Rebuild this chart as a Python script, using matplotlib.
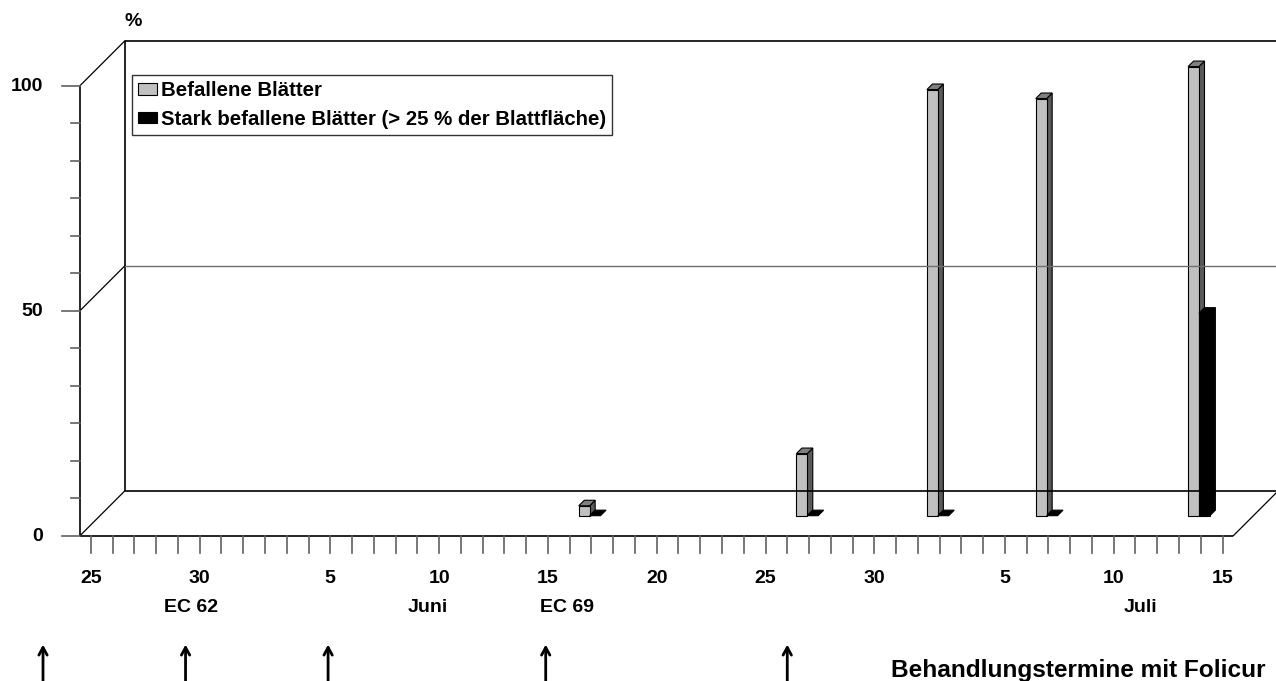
import numpy as np
import matplotlib.pyplot as plt
from matplotlib.patches import Polygon, Patch

plt.rcParams['font.family'] = ['Liberation Sans', 'DejaVu Sans']
plt.rcParams['font.weight'] = 'bold'

# day index along the category axis (0 = 25. Mai)
bar_days = [22, 32, 38, 43, 50]
befallen = [2.2, 13.8, 94.7, 92.7, 99.8]
stark = [0, 0, 0, 0, 45]

tick_pos = [0, 5, 11, 16, 21, 26, 31, 36, 42, 47, 52]
tick_txt = ['25', '30', '5', '10', '15', '20', '25', '30', '5', '10', '15']
sub_pos = [4.6, 15.5, 21.9, 48.25]
sub_txt = ['EC 62', 'Juni', 'EC 69', 'Juli']
spray_days = [-2.2, 4.35, 10.9, 20.9, 32.0]

n_days = 53
DX, DY = 2.068, 10.0      # depth of the floor in x / y data units
F0, F1 = 0.444, 0.567     # front and back of the columns (depth fraction)
W = 0.5                   # column width

def proj(x, y, f):
    return (x + f * DX, y + f * DY)

fig = plt.figure(figsize=(12.76, 6.81), dpi=100)
ax = fig.add_axes([0.0627, 0.2134, 0.9039, 0.6608])
ax.set_xlim(-0.5, n_days - 0.5)
ax.set_ylim(0, 100)
ax.axis('off')

x0, x1 = -0.5, n_days - 0.5
kw = dict(color='black', lw=1.2, clip_on=False, solid_capstyle='butt')

# walls and floor
for yv in (0, 50, 100):
    a, b = proj(x0, yv, 0), proj(x0, yv, 1)
    ax.plot([a[0], b[0]], [a[1], b[1]], color='black', lw=0.9, clip_on=False)
a, b = proj(x0, 0, 1), proj(x0, 100, 1)
ax.plot([a[0], b[0]], [a[1], b[1]], **kw)
a, b = proj(x0, 100, 1), proj(x1, 100, 1)
ax.plot([a[0], b[0]], [a[1], b[1]], **kw)
a, b = proj(x0, 50, 1), proj(x1, 50, 1)
ax.plot([a[0], b[0]], [a[1], b[1]], color='#707070', lw=1.0, clip_on=False)
a, b = proj(x0, 0, 1), proj(x1, 0, 1)
ax.plot([a[0], b[0]], [a[1], b[1]], **kw)
a, b = proj(x1, 0, 0), proj(x1, 0, 1)
ax.plot([a[0], b[0]], [a[1], b[1]], color='black', lw=0.9, clip_on=False)
ax.plot([x0, x0], [0, 100], **kw)
ax.plot([x0, x1], [0, 0], **kw)

# value axis ticks
for yv in np.arange(0, 100.01, 100 / 12):
    major = np.isclose(yv % 50, 0) or np.isclose(yv % 50, 50)
    ln = 0.83 if major else 0.41
    ax.plot([x0 - ln, x0], [yv, yv], color='#606060', lw=1.2, clip_on=False)
for yv in (0, 50, 100):
    ax.annotate(str(yv), (x0, yv), xytext=(-26.5, -0.5), textcoords='offset points',
                ha='right', va='center', fontsize=14)
ax.annotate('%', (x0, 100), xytext=(38, 46), textcoords='offset points',
            ha='center', va='center', fontsize=14)

# category axis ticks and labels
for d in range(n_days):
    ax.plot([d, d], [0, -3.8], color='#606060', lw=1.2, clip_on=False)
for p, t in zip(tick_pos, tick_txt):
    ax.annotate(t, (p, 0), xytext=(0, -30.5), textcoords='offset points',
                ha='center', va='center', fontsize=14)
for p, t in zip(sub_pos, sub_txt):
    ax.annotate(t, (p, 0), xytext=(0, -52), textcoords='offset points',
                ha='center', va='center', fontsize=14)

# treatment arrows
for d in spray_days:
    ax.annotate('', xy=(d, -24.2), xytext=(d, -34), annotation_clip=False,
                arrowprops=dict(arrowstyle='->,head_length=0.55,head_width=0.3',
                                lw=2.0, color='black', shrinkA=0, shrinkB=0))
fig.text(0.992, 0.006, 'Behandlungstermine mit Folicur', ha='right',
         va='baseline', fontsize=17.6)

def column(c0, v, face, top, side):
    c1 = c0 + W
    polys = []
    if v > 0:
        polys.append(([proj(c1, 0, F0), proj(c1, 0, F1), proj(c1, v, F1),
                       proj(c1, v, F0)], side))
    polys.append(([proj(c0, v, F0), proj(c1, v, F0), proj(c1, v, F1),
                   proj(c0, v, F1)], top))
    if v > 0:
        polys.append(([proj(c0, 0, F0), proj(c1, 0, F0), proj(c1, v, F0),
                       proj(c0, v, F0)], face))
    for pts, col in polys:
        ax.add_patch(Polygon(pts, closed=True, facecolor=col, edgecolor='black',
                             lw=0.8, clip_on=False, joinstyle='miter'))

for d, g, s in zip(bar_days, befallen, stark):
    column(d - W, g, '#c0c0c0', '#808080', '#5a5a5a')
    column(d, s, 'black', 'black', 'black')

handles = [Patch(facecolor='#c0c0c0', edgecolor='black', lw=0.8),
           Patch(facecolor='black', edgecolor='black', lw=0.8)]
labels = ['Befallene Blätter', 'Stark befallene Blätter (> 25 % der Blattfläche)']
leg = ax.legend(handles, labels, loc='upper left',
                bbox_to_anchor=(131.7 / 1276, 1 - 75.3 / 681),
                bbox_transform=fig.transFigure, fontsize=14.7, frameon=True,
                fancybox=False, borderpad=0.3, handlelength=0.93,
                handleheight=0.48, handletextpad=0.2, labelspacing=0.45,
                borderaxespad=0)
leg.get_frame().set_edgecolor('black')
leg.get_frame().set_linewidth(1.0)

fig.savefig('out.png', dpi=100)
